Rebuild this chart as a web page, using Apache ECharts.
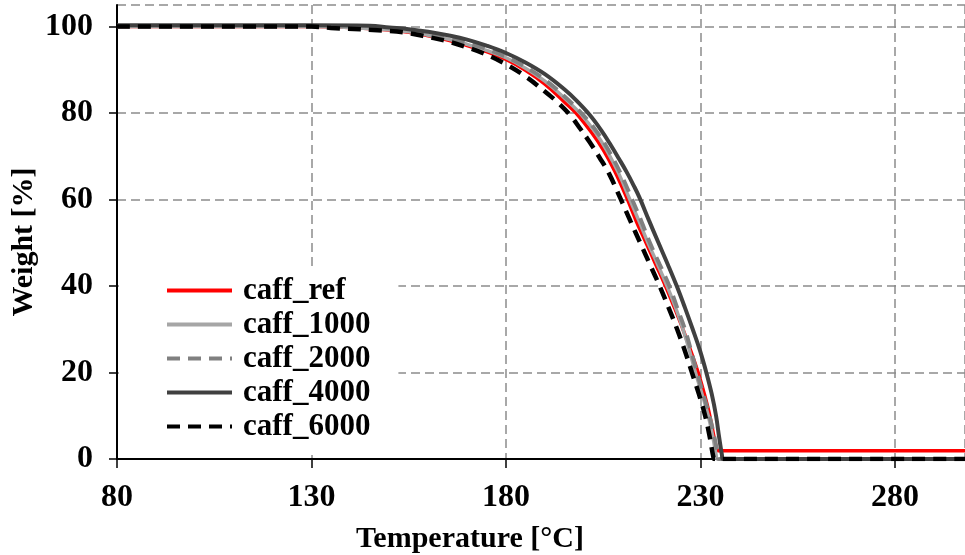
<!DOCTYPE html>
<html>
<head>
<meta charset="utf-8">
<script src="https://cdn.jsdelivr.net/npm/echarts@6/dist/echarts.min.js"></script>
<style>
html,body{margin:0;padding:0;background:#fff;}
#chart{width:965px;height:555px;}
</style>
</head>
<body>
<div id="chart"></div>
<script>
// temperature [°C] / weight [%]
var refT = [80, 130, 140, 150, 155, 160, 165, 170, 175, 180, 185, 190, 195, 198, 202, 205, 208, 211, 213.5, 216, 218.5, 221, 223.3, 225.5, 227.5, 229.4, 231, 232.4, 233.5, 234.3, 234.6, 298];
var refW = [100, 100, 99.8, 99.2, 98.7, 97.9, 96.9, 95.6, 94.2, 92.4, 89.9, 86.7, 82.6, 80, 75.5, 71.5, 66.5, 60.5, 55, 50, 45, 40, 35, 30, 25, 20, 15, 10, 5, 2, 1.9, 1.9];

var t1000 = [80, 130, 150, 155, 160, 165, 170, 175, 180, 185, 190, 195, 199.4, 203, 206, 209, 211.7, 214.2, 216.5, 219, 221.4, 223.6, 225.5, 227.2, 228.7, 230.4, 232, 233.2, 234, 234.3, 298];
var w1000 = [100, 100, 99.3, 98.8, 98, 97.1, 95.9, 94.5, 92.8, 90.4, 87.4, 83.5, 79.6, 75.5, 71.2, 66, 60.3, 55, 50, 45, 40, 35, 30, 25, 20, 15, 10, 5, 1, 0, 0];

var t2000 = [80, 130, 150, 155, 160, 165, 170, 175, 180, 185, 190, 195, 199.8, 203.5, 206.5, 209.5, 212.3, 214.8, 217, 219.5, 222, 224, 226, 227.6, 229.1, 230.7, 232.3, 233.6, 234.4, 234.7, 298];
var w2000 = [100, 100, 99.4, 98.9, 98.2, 97.3, 96.2, 94.8, 93, 90.7, 87.7, 83.9, 79.6, 75.5, 71.2, 66, 60.3, 55, 50, 45, 40, 35, 30, 25, 20, 15, 10, 5, 1, 0, 0];

var t4000 = [80, 130, 145, 150, 155, 160, 165, 170, 175, 180, 185, 190, 195, 198, 201.6, 204.5, 207, 209, 211, 212.8, 214.3, 216.7, 219.2, 221.6, 223.9, 226, 228, 229.9, 231.5, 232.9, 234, 234.8, 235.5, 235.8, 298];
var w4000 = [100.3, 100.3, 100.2, 99.8, 99.4, 98.8, 98, 97, 95.6, 93.9, 91.7, 89, 85.5, 83, 79.5, 76, 72.5, 69.5, 66.4, 63.3, 60.5, 55.3, 50, 45, 40, 35, 30, 25, 20, 15, 10, 5, 1, 0, 0];

var t6000 = [80, 130, 135, 150, 155, 160, 165, 170, 175, 180, 185, 190, 193.5, 196.5, 199, 201.5, 204, 206.5, 209.3, 212, 214.5, 217, 219.5, 221.8, 224, 226, 227.8, 229.6, 231.2, 232.4, 233.3, 233.6, 298];
var w6000 = [100, 100, 99.7, 99, 98.5, 97.6, 96.6, 95.2, 93.5, 91.3, 88.5, 85, 82.3, 79.5, 76.5, 73.3, 69.8, 66, 60.5, 55, 50, 45, 40, 35, 30, 25, 20, 15, 10, 5, 0.5, 0, 0];

var legendNames = ['caff_ref', 'caff_1000', 'caff_2000', 'caff_4000', 'caff_6000'];

function pairs(xs, ys){
	var out = [];
	for(var i=0;i<xs.length;i++){ out.push([xs[i], ys[i]]); }
	return out;
}

var font = 'Liberation Serif, Times New Roman, serif';

var myChart = echarts.init(document.getElementById('chart'));
var option = {
	animation:false,
	grid:{left:117, top:5, right:0, bottom:96, outerBoundsMode:'none', containLabel:false},
	legend:{
		orient:'vertical',
		left:119,
		top:269,
		backgroundColor:'#fff',
		padding:[6, 28, 13, 46],
		itemWidth:65,
		itemHeight:14,
		itemGap:3,
		itemStyle:{opacity:0},
		lineStyle:{width:4},
		textStyle:{fontFamily:font, fontWeight:'bold', fontSize:31, color:'#000', padding:[0,0,0,6]},
		data:legendNames
	},
	xAxis:[{
		type:'value',
		min:80,
		max:298,
		interval:50,
		name:'Temperature [°C]',
		nameLocation:'middle',
		nameGap:65,
		nameMoveOverlap:false,
		nameTextStyle:{fontFamily:font, fontWeight:'bold', fontSize:30, color:'#000', padding:[0,142,0,0]},
		axisLine:{show:true, onZero:false, lineStyle:{color:'#000', width:2}},
		axisTick:{show:true, length:9, lineStyle:{color:'#000', width:1.5}},
		axisLabel:{fontFamily:font, fontWeight:'bold', fontSize:32, color:'#000', margin:23, showMaxLabel:false},
		splitLine:{show:true, lineStyle:{color:'#8c8c8c', width:1.5, type:[9,5]}}
	},{
		type:'value',
		position:'top',
		min:80,
		max:298,
		axisLine:{show:true, lineStyle:{color:'#000', width:2}},
		axisTick:{show:false},
		axisLabel:{show:false},
		splitLine:{show:false}
	}],
	yAxis:{
		type:'value',
		min:0,
		max:105,
		interval:20,
		name:'Weight [%]',
		nameLocation:'middle',
		nameGap:78,
		nameMoveOverlap:false,
		nameTextStyle:{fontFamily:font, fontWeight:'bold', fontSize:30, color:'#000', padding:[0,20,0,0]},
		axisLine:{show:true, lineStyle:{color:'#000', width:2}},
		axisTick:{show:true, length:8, lineStyle:{color:'#000', width:1.5}},
		axisLabel:{fontFamily:font, fontWeight:'bold', fontSize:32, color:'#000', margin:24, showMaxLabel:false},
		splitLine:{show:true, lineStyle:{color:'#8c8c8c', width:1.5, type:[9,5]}}
	},
	series:[
		{name:'caff_ref', type:'line', showSymbol:false, symbol:'none', smooth:0.4, data:pairs(refT, refW),
			lineStyle:{color:'#ff0000', width:3.5}, itemStyle:{color:'#ff0000'}},
		{name:'caff_1000', type:'line', showSymbol:false, symbol:'none', smooth:0.4, data:pairs(t1000, w1000),
			lineStyle:{color:'#a6a6a6', width:3.5}, itemStyle:{color:'#a6a6a6'}},
		{name:'caff_2000', type:'line', showSymbol:false, symbol:'none', smooth:0.4, data:pairs(t2000, w2000),
			lineStyle:{color:'#808080', width:4, type:[13,8]}, itemStyle:{color:'#808080'}},
		{name:'caff_4000', type:'line', showSymbol:false, symbol:'none', smooth:0.4, data:pairs(t4000, w4000),
			lineStyle:{color:'#404040', width:4}, itemStyle:{color:'#404040'}},
		{name:'caff_6000', type:'line', showSymbol:false, symbol:'none', smooth:0.4, data:pairs(t6000, w6000),
			lineStyle:{color:'#000000', width:4.5, type:[13,8]}, itemStyle:{color:'#000000'}}
	]
};
myChart.setOption(option);
</script>
</body>
</html>
